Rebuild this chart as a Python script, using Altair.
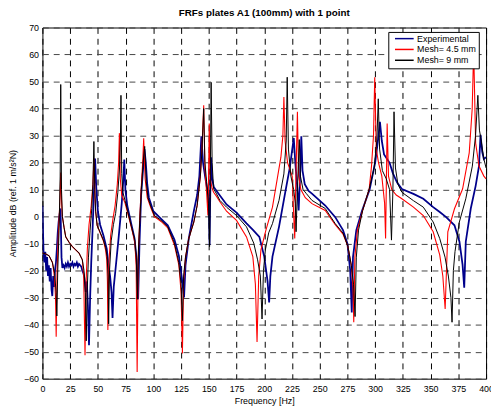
import altair as alt
import pandas as pd

# ---------------- data ----------------
series_names = ["Experimental", "Mesh= 4.5 mm", "Mesh= 9 mm"]
series_colors = ["#00008B", "#FF0000", "#000000"]
series_widths = [1.8, 1.1, 1.0]

exp_f = [0, 0.5, 1, 1.8, 2.6, 3.4, 4.2, 5, 5.8, 6.6, 7.4, 8.2, 8.9, 9.7, 10.5, 11.3, 12.2, 13, 13.8, 14.6,
         15.5, 16.3, 17.2, 18, 19, 20, 21, 22, 23, 24, 25, 26, 27, 28, 29, 30, 31, 32, 33, 34,
         35, 36, 37, 38, 39, 40, 41, 42, 43, 44, 45, 46, 47.5, 48.5, 50, 52, 55, 58, 59.7, 61,
         62.3, 63.2, 64.3, 65.6, 68.5, 71.5, 73, 73.8, 74.8, 76.5, 80, 83, 85, 86.3, 87.5, 89, 91, 92, 93.2, 94.5,
         96, 100, 107, 113, 119, 123, 125.5, 127.7, 129, 132, 136.5, 139.5, 141.5, 143.3, 144.8, 147, 149.5, 150.2, 150.7, 151.3,
         152, 153, 154.5, 157, 166, 175, 184, 190, 195.6, 200, 203, 204.4, 205.5, 207.4, 213.3, 219.2, 223, 226.6, 228, 229.5,
         231, 232.3, 233.4, 234.5, 236.5, 240, 243, 255, 264, 271, 275, 277.5, 278.9, 280, 283, 288, 295, 300, 302.5, 304.3,
         306, 308, 313, 316, 319.8, 324.1, 334.5, 343.4, 352.3, 358.2, 364, 371.5, 376, 378.8, 380.3, 381.7, 386.2, 390.6, 393.6, 395,
         396.5, 398, 400]
exp_db = [4, -5, -13, -17, -13, -20, -15, -22, -18, -24, -19, -27, -29.4, -22, -26, -20, -17, -12, -6, -2,
          1, 3, -15, -19, -18, -19, -17.5, -18.5, -17, -18.5, -17.5, -18, -17, -18.5, -17.5, -18, -17, -18.5, -17.5, -18,
          -18.5, -20, -21, -23, -28, -24, -33, -47.6, -30, -17, -7, 4, 21.5, 11, 2, -3, -7, -12, -18.4, -22,
          -28, -37.5, -26, -20.7, -8.7, 4.8, 14, 21.1, 10, 4, -2.5, -8, -16, -30.6, -10, 8, 19, 25, 20, 12,
          7, 2, -0.8, -3.2, -8.5, -14.5, -22, -29.9, -18, -8, 2, 8, 15, 29.7, 20, 14, 8, 2, -10.5, 8,
          22, 14, 11, 9.5, 4.5, 1.5, -2.5, -5, -7.5, -14.8, -24, -31.8, -22, -14.8, -3.8, 9.6, 18, 29.1, 20, 12,
          2.3, 15, 29.7, 17, 12, 9.5, 8.5, 4.1, -0.2, -5, -10, -20, -35.5, -15, -5, 2, 10, 20, 28, 35.1,
          28, 23, 19.9, 16, 12.6, 10.2, 8.4, 6.6, 3.5, 1.7, -0.2, -3.2, -9.3, -17.8, -26.3, -9.3, 3, 11.4, 18.7, 30.3,
          24, 21.3, 22]

m45_f = [0, 3, 6, 9, 10.8, 11.8, 12.4, 13.2, 14.5, 15.7, 16.5, 17.2, 18, 19.5, 21, 24, 27, 30, 33, 36,
         37.2, 38.4, 39.3, 40.5, 42, 44, 45.5, 46.5, 47.3, 48, 49.3, 52, 55, 57, 58, 58.6, 59, 59.8, 61.5, 63.5,
         65.5, 67.5, 68.7, 69.4, 70.2, 71.5, 74.5, 77.4, 80.3, 83.3, 84.5, 85.4, 86.4, 87.6, 89, 90.5, 91.3, 92.6, 94.5, 98,
         101, 107, 113, 119, 123, 125, 126.2, 127.3, 129, 132, 136.5, 139.5, 142.4, 143.9, 145.4, 146.5, 148, 149.2, 149.7, 150.4,
         151.3, 153, 154.3, 157, 160, 166, 175, 184, 189.7, 192, 193.5, 195, 197, 201.5, 207.4, 211.9, 215, 216.8, 217.7, 218.8,
         221, 225.2, 226.8, 227.5, 228.4, 229.9, 231, 233, 237, 243, 255, 264, 271, 275.4, 278.5, 280, 280.7, 281.7, 284, 288.7,
         294.6, 296.7, 298.5, 299.6, 301, 303, 306, 308.5, 309.4, 310, 310.8, 312, 315, 319, 324.1, 334.5, 343.4, 352.3, 358.2, 361,
         363.1, 365.5, 371.5, 378.8, 384.8, 387.5, 388.8, 390.6, 393.6, 398, 400]
m45_db = [-13.5, -13.8, -14.5, -17, -22, -30, -44.5, -20, -5, 5, 16.3, 6, 0, -4, -7.5, -9.5, -11.1, -12.3, -13.5, -16,
          -22, -51.3, -25, -12, -3, 4, 12, 21.5, 9, 2, -3.2, -6, -9, -12.5, -16, -24, -42, -18, -7, -1,
          4, 12, 20, 30.9, 14, 8, 5, 0.5, -4.2, -9.5, -18, -57.5, -15, -2, 10, 21, 29, 14, 7, 3,
          0, -1.8, -4.2, -10.5, -18, -28, -50.7, -24, -15, -8, -2, 4.1, 15, 26, 41.2, 18, 9, 0.4, 12, 34.5,
          14, 10.5, 9, 7.5, 5.5, 2, -1.4, -7.5, -14.8, -25, -46.4, -22, -12.3, -5, 3.5, 14.4, 22, 30, 44.3, 28,
          20, 15, -2, -8.1, 12, 38.8, 15, 10, 7, 4.8, 2.3, -3, -6.5, -11, -18, -26, -39.1, -15, -5, 2.3,
          10.2, 18.7, 30, 51.6, 25, 20, 15, 5, -8.1, 10, 34.5, 15, 10, 8, 6.6, 3.5, 0.4, -5.6, -14.2, -22,
          -34.2, -5.6, 2.9, 10.2, 23.6, 40, 62, 27.2, 18.7, 15, 14]

m9_f = [0, 3, 6, 9, 11, 12.3, 13, 13.8, 15, 16, 16.5, 17.2, 18, 19.5, 21, 24, 27, 30, 33, 36,
        37.5, 38.7, 39.5, 40.3, 41.5, 43, 44.5, 45.5, 46.4, 47.2, 48, 49.3, 52, 55, 57, 58.3, 59.2, 59.7, 60.5, 62,
        64, 66, 68, 69.5, 70.3, 70.8, 71.5, 72.5, 74.5, 77.4, 80.3, 83.3, 84.6, 85.6, 86.6, 87.8, 89.2, 90.8, 92.2, 93.6,
        95.1, 98, 101, 107, 113, 119, 123, 125, 126.2, 127.3, 129, 132, 136.5, 139.5, 142.4, 143.9, 145.4, 146.5, 148, 149.7,
        150.7, 151.3, 152.1, 153, 154.3, 157, 160, 166, 175, 184, 190.5, 194, 196.5, 198, 199.3, 201, 204, 207.4, 213.3, 217.7,
        219.8, 220.7, 221.8, 224, 226.5, 228, 228.7, 229.7, 230.8, 231.6, 232.6, 235, 238, 243, 255, 264, 271, 275.4, 278.5, 280.5,
        281.9, 283, 285, 288.7, 294.6, 299, 301.5, 302.8, 304, 306.5, 310, 313, 314.7, 316, 317, 318.3, 320.5, 324.1, 334.5, 343.4,
        352.3, 358.2, 363, 366, 368.3, 369.3, 370.5, 372, 375.9, 381.7, 387.6, 390.5, 392.6, 394, 395, 398, 400]
m9_db = [-13.5, -13.8, -14.5, -17, -21, -28, -36.8, -20, -5, 15, 48.9, 10, 0, -4, -7.5, -9.5, -11.1, -12.3, -13.5, -16,
         -20, -28, -46, -28, -15, -5, 3, 12, 27.8, 10, 2, -3.2, -5.8, -8.7, -11.5, -14.8, -22, -39.7, -20, -9,
         -3, 1.2, 9, 18, 28, 44.9, 16, 9, 6, 1, -3.8, -8.7, -15, -30.6, -12, -1.4, 10, 20, 26, 13,
         7, 3.5, 0.4, -1.4, -3.8, -9.8, -17.1, -25, -38.5, -22, -15, -8, -2, 4.1, 15, 25, 40, 20, 13, 5,
         -11.1, 12, 49.7, 20, 10.3, 8.4, 6, 3.5, 0.4, -3.8, -9.8, -16, -22, -37.9, -20, -12.3, -6, -2.6, 6, 15.8,
         28, 51.6, 25, 15, 10, 5, -5.6, 8, 20, 28.5, 15, 10, 8.5, 6, 3, -2.6, -6.1, -11, -18, -25,
         -37, -15, -5, 2.3, 10.2, 18, 28, 43.6, 25, 17, 14, 10, -8.7, 10, 38.8, 18, 12, 9, 5.9, 3.5,
         -2, -8.1, -15, -22, -30, -39.1, -20, -12.9, -2, 6.6, 18.7, 30, 44.9, 32, 29.7, 21.3, 18]

x_ticks = list(range(0, 401, 25))
y_ticks = list(range(-60, 71, 10))

# ---------------- table ----------------
frames = []
for name, fs, vs in zip(series_names, [exp_f, m45_f, m9_f], [exp_db, m45_db, m9_db]):
    frames.append(pd.DataFrame({"f": fs, "db": vs, "series": name, "i": range(len(fs))}))
df = pd.concat(frames, ignore_index=True)

FONT = "Liberation Sans"

color = alt.Color(
    "series:N",
    scale=alt.Scale(domain=series_names, range=series_colors),
    title=None,
    legend=alt.Legend(
        orient="none", legendX=351.6, legendY=4.5,
        fillColor="white", strokeColor="black", padding=2.3,
        symbolType="M3.33,0H9.66", symbolSize=36, symbolStrokeWidth=1.5,
        symbolOffset=-10,
        rowPadding=1, labelOffset=28,
        labelFontSize=9, labelFont=FONT, labelColor="black", cornerRadius=0,
    ),
)

x = alt.X("f:Q", scale=alt.Scale(domain=[0, 400], nice=False, zero=False),
          axis=alt.Axis(values=x_ticks, title="Frequency [Hz]", labelFlush=False, labelOverlap=False,
                        labelPadding=6, titlePadding=3))
y = alt.Y("db:Q", scale=alt.Scale(domain=[-60, 70], nice=False, zero=False),
          axis=alt.Axis(values=y_ticks, title="Amplitude dB (ref. 1 m/s²N)", labelPadding=4, titlePadding=6,
                        gridColor="#444444"))

layers = []
for name, w in zip(series_names, series_widths):
    layers.append(
        alt.Chart(df).transform_filter(alt.datum.series == name)
        .mark_line(strokeWidth=w, clip=True)
        .encode(x=x, y=y, color=color, order="i:Q")
    )

chart = alt.layer(*layers).properties(
    width=451, height=357,
    autosize=alt.AutoSizeParams(type="none"),
    padding={"left": 35, "top": 16.5, "right": 5, "bottom": 29},
    title=alt.TitleParams("FRFs plates A1 (100mm) with 1 point", font=FONT, fontSize=10,
                          fontWeight="bold", anchor="middle", offset=6, color="black"),
).configure_view(stroke="black", strokeWidth=1).configure_axis(
    labelFont=FONT, labelFontSize=9, labelColor="black",
    titleFont=FONT, titleFontSize=9, titleFontWeight="normal", titleColor="black",
    grid=True, gridColor="black", gridDash=[6, 5], gridOpacity=1, gridWidth=1,
    ticks=False, domain=False,
)

chart.save("out.html", embed_options={"renderer": "svg", "actions": False})
